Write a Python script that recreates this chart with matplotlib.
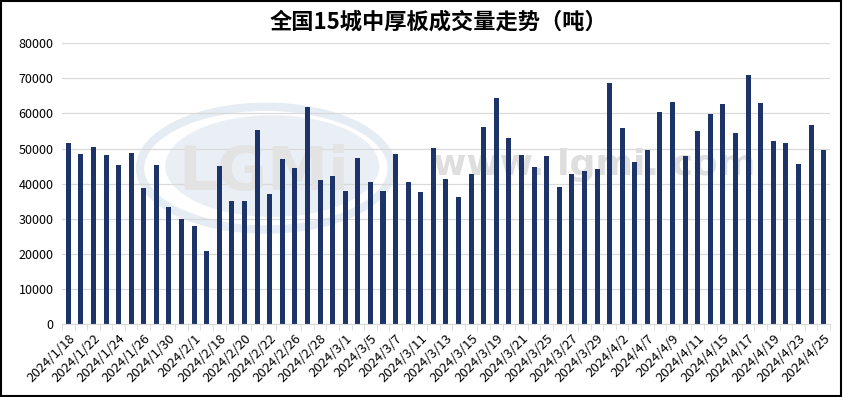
import matplotlib
matplotlib.use("Agg")
import matplotlib.pyplot as plt
from matplotlib.patches import Ellipse, Rectangle
import numpy as np

plt.rcParams['font.family'] = ['Noto Sans CJK SC', 'DejaVu Sans']

title = "全国15城中厚板成交量走势（吨）"
tick_labels = ["2024/1/18", "2024/1/22", "2024/1/24", "2024/1/26", "2024/1/30", "2024/2/1",
               "2024/2/18", "2024/2/20", "2024/2/22", "2024/2/26", "2024/2/28", "2024/3/1",
               "2024/3/5", "2024/3/7", "2024/3/11", "2024/3/13", "2024/3/15", "2024/3/19",
               "2024/3/21", "2024/3/25", "2024/3/27", "2024/3/29", "2024/4/2", "2024/4/7",
               "2024/4/9", "2024/4/11", "2024/4/15", "2024/4/17", "2024/4/19", "2024/4/23",
               "2024/4/25"]
volumes = [51600, 48500, 50500, 48200, 45300, 48700, 38800, 45300, 33300, 29900,
           27900, 20800, 45000, 35100, 35100, 55300, 37100, 47000, 44500, 61900,
           41000, 42200, 37900, 47300, 40500, 37900, 48500, 40500, 37600, 50200,
           41300, 36200, 42800, 56200, 64400, 53000, 48200, 44800, 47900, 39000,
           42800, 43600, 44200, 68700, 55900, 46200, 49600, 60400, 63300, 47900,
           55000, 59900, 62700, 54400, 71000, 63000, 52200, 51600, 45600, 56700,
           49600]
yticks = [0, 10000, 20000, 30000, 40000, 50000, 60000, 70000, 80000]

bar_color = '#1c3468'

fig = plt.figure(figsize=(8.43, 3.97), dpi=100)
ax = fig.add_axes([0.0735, 0.184, 0.911, 0.707])

n = len(volumes)
x = np.arange(n)

# watermark
ax.add_patch(Ellipse((15.7, 44400), 20, 35000, facecolor='none', edgecolor='#e6ecf3',
                     linewidth=6, zorder=0.5))
ax.add_patch(Ellipse((16.2, 45000), 17, 29000, facecolor='#eaeff5', edgecolor='none', zorder=0.5))
ax.text(15.5, 43000, "LGMi", fontsize=44, fontweight='bold', color='#e3e3e3',
        ha='center', va='center', zorder=0.6, family='DejaVu Sans')
ax.text(41.8, 45300, "www. lgmi. com", fontsize=26, fontweight='bold', color='#dedede',
        ha='center', va='center', zorder=0.6, family='DejaVu Sans')

ax.bar(x, volumes, width=0.4, color=bar_color, zorder=2)

ax.set_xlim(-0.5, n - 0.5)
ax.set_ylim(0, 80000)
ax.set_yticks(yticks)
ax.set_yticklabels([str(v) for v in yticks], fontsize=9)
ax.yaxis.grid(True, color='#d9d9d9', linewidth=0.9, zorder=0)
ax.set_axisbelow(True)
ax.tick_params(axis='y', length=0, pad=6)

ax.set_xticks(np.arange(0, n, 2))
ax.set_xticklabels(tick_labels, rotation=45, ha='right', rotation_mode='anchor', fontsize=9.5)
ax.set_xticks(np.arange(-0.5, n, 1), minor=True)
ax.tick_params(axis='x', which='major', length=0, pad=6)
ax.tick_params(axis='x', which='minor', length=4, color='#d9d9d9')

for s in ['top', 'right', 'left']:
    ax.spines[s].set_visible(False)
ax.spines['bottom'].set_color('#d9d9d9')

fig.text(0.52, 0.945, title, ha='center', va='center', fontsize=16, fontweight='bold')

fig.add_artist(Rectangle((0.001, 0.002), 0.997, 0.995, transform=fig.transFigure,
                         fill=False, edgecolor='black', linewidth=1.5))

fig.savefig("out.png", dpi=100)
